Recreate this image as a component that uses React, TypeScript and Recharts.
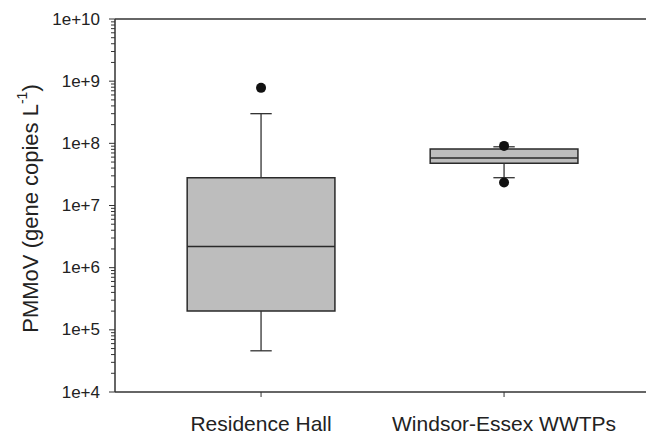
import React from 'react';
import { ComposedChart, XAxis, YAxis, ReferenceArea, ReferenceLine, Scatter } from 'recharts';

const categories = ['Residence Hall', 'Windsor-Essex WWTPs'];
const whiskerLow = [4.6e4, 2.8e7];
const quartile1 = [2.0e5, 4.8e7];
const medians = [2.2e6, 5.8e7];
const quartile3 = [2.8e7, 8.1e7];
const whiskerHigh = [3.0e8, 8.8e7];
const outlierCategory = [0, 1, 1];
const outlierValues = [7.8e8, 9.1e7, 2.35e7];

const decades = [1e4, 1e5, 1e6, 1e7, 1e8, 1e9, 1e10];
const decadeLabels = ['1e+4', '1e+5', '1e+6', '1e+7', '1e+8', '1e+9', '1e+10'];

// major + minor ticks for the log axis
const yTicks: number[] = [];
decades.forEach((d, i) => {
  yTicks.push(d);
  if (i < decades.length - 1) {
    for (let m = 2; m <= 9; m++) yTicks.push(m * d);
  }
});

const outlierData = outlierValues.map((v, i) => ({ x: outlierCategory[i] + 1, y: v }));

const FONT = '"Liberation Sans", Arial, sans-serif';
const INK = '#222';
const LINE = '#333';
const BOX_HALF = 0.304;
const CAP_HALF = 0.044;

const YTick = (props: any) => {
  const { x, y, payload } = props;
  const lg = Math.log10(payload.value);
  const idx = decades.findIndex((d) => Math.abs(Math.log10(d) - lg) < 1e-6);
  const major = idx >= 0;
  return (
    <g>
      <line x1={x - (major ? 6 : 4)} x2={x} y1={y} y2={y} stroke={LINE} strokeWidth={1} />
      {major && (
        <text x={x - 15} y={y} textAnchor="end" dominantBaseline="central" fontFamily={FONT} fontSize={17} fill={INK}>
          {decadeLabels[idx]}
        </text>
      )}
    </g>
  );
};

const XTick = (props: any) => {
  const { x, y, payload } = props;
  return (
    <g>
      <line x1={x} x2={x} y1={y} y2={y + 5} stroke={LINE} strokeWidth={1} />
      <text x={x} y={y + 39} textAnchor="middle" fontFamily={FONT} fontSize={21} fill={INK}>
        {categories[payload.value - 1]}
      </text>
    </g>
  );
};

const YTitle = (props: any) => {
  const { viewBox } = props;
  const cx = 30;
  const cy = viewBox.y + viewBox.height / 2 + 3;
  return (
    <text
      x={cx}
      y={cy}
      transform={`rotate(-90 ${cx} ${cy})`}
      textAnchor="middle"
      dominantBaseline="central"
      fontFamily={FONT}
      fontSize={22}
      fill={INK}
    >
      PMMoV (gene copies L
      <tspan fontSize={14} dy={-8}>-1</tspan>
      <tspan dy={8}>)</tspan>
    </text>
  );
};

export default function App() {
  return (
    <div style={{ position: 'absolute', left: 0, top: 0, width: 646, height: 438, overflow: 'hidden', background: '#fff' }}>
      <ComposedChart width={680} height={438} margin={{ top: 19, right: 0, bottom: 0, left: 0 }} data={outlierData}>
        <XAxis
          type="number"
          dataKey="x"
          domain={[0.399, 2.724]}
          ticks={[1, 2]}
          interval={0}
          allowDataOverflow
          height={46}
          tickSize={0}
          tickMargin={0}
          tick={<XTick />}
          axisLine={{ stroke: LINE, strokeWidth: 1.5 }}
        />
        <YAxis
          type="number"
          dataKey="y"
          scale="log"
          domain={[1e4, 1e10]}
          ticks={yTicks}
          interval={0}
          allowDataOverflow
          width={115}
          tickSize={0}
          tickMargin={0}
          tick={<YTick />}
          axisLine={{ stroke: LINE, strokeWidth: 1.5 }}
          label={<YTitle />}
        />
        <ReferenceLine y={1e10} stroke={LINE} strokeWidth={1.5} />
        {categories.map((c, i) => (
          <ReferenceLine
            key={'wl' + c}
            segment={[{ x: i + 1, y: whiskerLow[i] }, { x: i + 1, y: quartile1[i] }]}
            stroke={LINE}
            strokeWidth={1.3}
          />
        ))}
        {categories.map((c, i) => (
          <ReferenceLine
            key={'wh' + c}
            segment={[{ x: i + 1, y: quartile3[i] }, { x: i + 1, y: whiskerHigh[i] }]}
            stroke={LINE}
            strokeWidth={1.3}
          />
        ))}
        {categories.map((c, i) => (
          <ReferenceLine
            key={'cl' + c}
            segment={[{ x: i + 1 - CAP_HALF, y: whiskerLow[i] }, { x: i + 1 + CAP_HALF, y: whiskerLow[i] }]}
            stroke={LINE}
            strokeWidth={1.3}
          />
        ))}
        {categories.map((c, i) => (
          <ReferenceLine
            key={'ch' + c}
            segment={[{ x: i + 1 - CAP_HALF, y: whiskerHigh[i] }, { x: i + 1 + CAP_HALF, y: whiskerHigh[i] }]}
            stroke={LINE}
            strokeWidth={1.3}
          />
        ))}
        {categories.map((c, i) => (
          <ReferenceArea
            key={'box' + c}
            x1={i + 1 - BOX_HALF}
            x2={i + 1 + BOX_HALF}
            y1={quartile1[i]}
            y2={quartile3[i]}
            fill="#bdbdbd"
            fillOpacity={1}
            stroke="#2a2a2a"
            strokeWidth={1.5}
          />
        ))}
        {categories.map((c, i) => (
          <ReferenceLine
            key={'med' + c}
            segment={[{ x: i + 1 - BOX_HALF, y: medians[i] }, { x: i + 1 + BOX_HALF, y: medians[i] }]}
            stroke="#2a2a2a"
            strokeWidth={1.5}
          />
        ))}
        <Scatter
          dataKey="y"
          isAnimationActive={false}
          shape={(p: any) => <circle cx={p.cx} cy={p.cy} r={5} fill="#111" />}
        />
      </ComposedChart>
    </div>
  );
}
